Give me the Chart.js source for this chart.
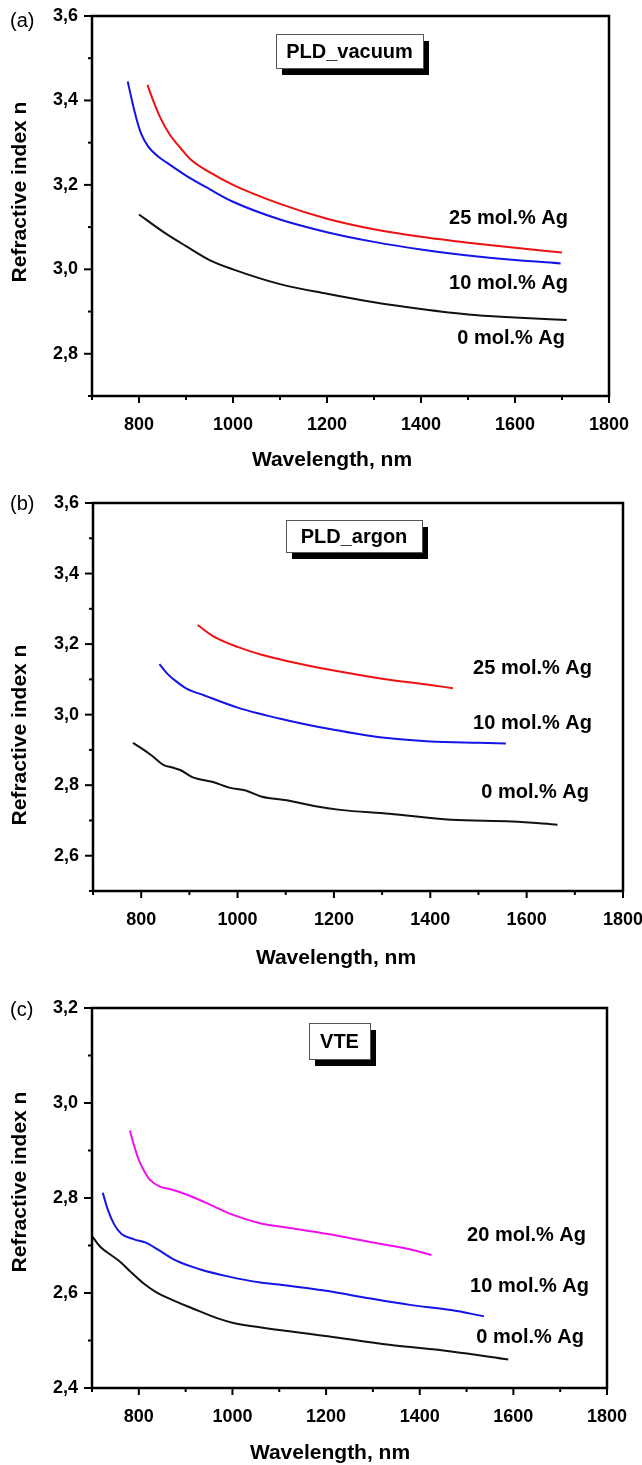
<!DOCTYPE html>
<html><head><meta charset="utf-8">
<script src="https://cdn.jsdelivr.net/npm/chart.js@4"></script>
<style>
html,body{margin:0;padding:0;background:#fff;width:642px;height:1465px;overflow:hidden}
canvas{position:absolute;left:0}
</style></head><body>
<canvas id="ca" width="642" height="490" style="top:0px"></canvas>
<canvas id="cb" width="642" height="490" style="top:490px"></canvas>
<canvas id="cc" width="642" height="485" style="top:980px"></canvas>
<script>
// ---------- DATA ----------
const xTickLabels = ['800','1000','1200','1400','1600','1800'];

// (a) PLD_vacuum
const wlA0  = [800, 850, 900, 950, 1000, 1100, 1200, 1300, 1400, 1500, 1600, 1710];
const nA0   = [3.13, 3.09, 3.055, 3.022, 3.00, 2.965, 2.942, 2.922, 2.906, 2.893, 2.886, 2.880];
const wlA10 = [776, 785, 795, 805, 820, 840, 860, 900, 950, 1000, 1100, 1200, 1300, 1400, 1500, 1600, 1697];
const nA10  = [3.445, 3.40, 3.355, 3.32, 3.29, 3.268, 3.252, 3.222, 3.19, 3.16, 3.118, 3.088, 3.065, 3.047, 3.033, 3.022, 3.014];
const wlA25 = [818, 830, 845, 865, 890, 910, 950, 1000, 1100, 1200, 1300, 1400, 1500, 1600, 1700];
const nA25  = [3.437, 3.40, 3.36, 3.32, 3.285, 3.26, 3.23, 3.20, 3.155, 3.12, 3.095, 3.077, 3.063, 3.051, 3.040];

// (b) PLD_argon
const wlB0  = [783, 800, 821, 847, 865, 881, 906, 949, 983, 1017, 1051, 1102, 1162, 1213, 1315, 1443, 1570, 1664];
const nB0   = [2.920, 2.905, 2.885, 2.857, 2.850, 2.843, 2.823, 2.809, 2.793, 2.785, 2.767, 2.757, 2.740, 2.730, 2.719, 2.702, 2.697, 2.688];
const wlB10 = [838, 855, 872, 894, 930, 1000, 1100, 1200, 1300, 1400, 1500, 1557];
const nB10  = [3.143, 3.115, 3.095, 3.074, 3.055, 3.020, 2.985, 2.957, 2.935, 2.924, 2.920, 2.918];
const wlB25 = [917, 950, 1000, 1050, 1100, 1200, 1300, 1400, 1447];
const nB25  = [3.254, 3.222, 3.192, 3.170, 3.153, 3.125, 3.102, 3.084, 3.075];

// (c) VTE
const wlC0  = [700, 717, 745, 760, 782, 809, 835, 870, 914, 967, 1002, 1072, 1204, 1335, 1467, 1589];
const nC0   = [2.720, 2.698, 2.677, 2.666, 2.645, 2.621, 2.603, 2.586, 2.568, 2.547, 2.537, 2.526, 2.509, 2.491, 2.477, 2.460];
const wlC10 = [723, 734, 747, 763, 790, 815, 840, 880, 930, 990, 1060, 1116, 1204, 1291, 1379, 1467, 1537];
const nC10  = [2.811, 2.775, 2.745, 2.724, 2.713, 2.706, 2.692, 2.668, 2.650, 2.635, 2.622, 2.616, 2.604, 2.589, 2.575, 2.564, 2.551];
const wlC20 = [781, 790, 800, 812, 824, 845, 870, 900, 920, 952, 1000, 1059, 1116, 1204, 1291, 1379, 1425];
const nC20  = [2.942, 2.91, 2.88, 2.856, 2.838, 2.824, 2.818, 2.808, 2.800, 2.786, 2.765, 2.747, 2.738, 2.724, 2.708, 2.692, 2.680];

// ---------- STYLE / LAYOUT ----------
const FONT = '"Liberation Sans", Arial, sans-serif';
const RED = '#ee1111', BLUE = '#1414e6', BLACK = '#111111', MAGENTA = '#ee11ee';

function pts(xs, ys){ return xs.map((x,i)=>({x:x, y:ys[i]})); }

function panelPlugin(p){
  return {
    id: 'panel_' + p.id,
    afterDraw(chart){
      const ctx = chart.ctx, ca = chart.chartArea;
      const xs = chart.scales.x, ys = chart.scales.y;
      ctx.save();
      // ticks
      ctx.strokeStyle = '#000'; ctx.lineWidth = 2;
      xs.ticks.forEach(t=>{
        const px = xs.getPixelForValue(t.value);
        const major = Math.round(t.value) % 200 === 0;
        ctx.beginPath(); ctx.moveTo(px, ca.bottom); ctx.lineTo(px, ca.bottom + (major?7:4)); ctx.stroke();
      });
      ys.ticks.forEach(t=>{
        const py = ys.getPixelForValue(t.value);
        const major = Math.round(t.value*10) % 2 === 0;
        ctx.beginPath(); ctx.moveTo(ca.left, py); ctx.lineTo(ca.left - (major?8:4), py); ctx.stroke();
      });
      // frame
      ctx.lineWidth = 2.5;
      ctx.strokeRect(ca.left, ca.top, ca.right - ca.left, ca.bottom - ca.top);
      // panel letter
      ctx.fillStyle = '#000';
      ctx.font = '20px ' + FONT; ctx.textAlign = 'left'; ctx.textBaseline = 'middle';
      ctx.fillText(p.letter, p.letterPos[0], p.letterPos[1]);
      // boxed label with shadow
      const b = p.box;
      ctx.fillStyle = '#000'; ctx.fillRect(b[0]+6, b[1]+7, b[2], b[3]);
      ctx.fillStyle = '#fff'; ctx.fillRect(b[0], b[1], b[2], b[3]);
      ctx.lineWidth = 1; ctx.strokeStyle = '#555'; ctx.strokeRect(b[0]+0.5, b[1]+0.5, b[2], b[3]);
      ctx.fillStyle = '#000'; ctx.font = 'bold 20px ' + FONT; ctx.textAlign = 'center';
      ctx.fillText(p.boxText, b[0] + b[2]/2, b[1] + b[3]/2 + 1);
      // curve annotations
      ctx.textAlign = 'right';
      p.notes.forEach(n=>{ ctx.fillText(n[0], n[1], n[2]); });
      // axis titles
      ctx.font = 'bold 21px ' + FONT; ctx.textAlign = 'center';
      ctx.fillText('Wavelength, nm', p.xTitle[0], p.xTitle[1]);
      ctx.translate(p.yTitle[0], p.yTitle[1]); ctx.rotate(-Math.PI/2);
      ctx.fillText('Refractive index n', 0, 0);
      ctx.restore();
    }
  };
}

function makePanel(p){
  const tickFont = {family: FONT, size: 18, weight: 'bold'};
  return new Chart(document.getElementById(p.id), {
    type: 'line',
    data: { datasets: p.series.map(s=>({data: pts(s[0], s[1]), borderColor: s[2], borderWidth: 2, pointRadius: 0, cubicInterpolationMode: 'monotone', fill: false})) },
    options: {
      responsive: false, animation: false, events: [],
      plugins: { legend: {display:false}, tooltip: {enabled:false} },
      layout: { padding: p.pad },
      scales: {
        x: {
          type: 'linear', min: 700, max: 1800,
          grid: {display:false, drawTicks:false}, border: {display:false},
          ticks: { stepSize: 100, autoSkip: false, maxRotation: 0, color: '#000', font: tickFont, padding: 18,
            callback: v => { const r = Math.round(v); return r % 200 === 0 && xTickLabels.includes(String(r)) ? String(r) : ''; } },
          afterFit(s){ s.height = p.xH; s.paddingLeft = 0; s.paddingRight = 0; }
        },
        y: {
          type: 'linear', min: p.yMin, max: p.yMax,
          grid: {display:false, drawTicks:false}, border: {display:false},
          ticks: { stepSize: 0.1, autoSkip: false, color: '#000', font: tickFont, padding: 14,
            callback: v => { const k = Math.round(v*10); return k % 2 === 0 ? (k/10).toFixed(1).replace('.', ',') : ''; } },
          afterFit(s){ s.width = p.yW; s.paddingTop = 0; s.paddingBottom = 0; }
        }
      }
    },
    plugins: [panelPlugin(p)]
  });
}

makePanel({
  id: 'ca', letter: '(a)', letterPos: [10, 21],
  yMin: 2.7, yMax: 3.6, yW: 92, xH: 60,
  pad: {left: 0, right: 33, top: 16, bottom: 34},
  series: [[wlA0, nA0, BLACK], [wlA10, nA10, BLUE], [wlA25, nA25, RED]],
  box: [276, 34, 147, 34], boxText: 'PLD_vacuum',
  notes: [['25 mol.% Ag', 568, 218], ['10 mol.% Ag', 568, 283], ['0 mol.% Ag', 565, 338]],
  xTitle: [332, 460], yTitle: [20, 192]
});
makePanel({
  id: 'cb', letter: '(b)', letterPos: [10, 14],
  yMin: 2.5, yMax: 3.6, yW: 93, xH: 60,
  pad: {left: 0, right: 19, top: 13, bottom: 29},
  series: [[wlB0, nB0, BLACK], [wlB10, nB10, BLUE], [wlB25, nB25, RED]],
  box: [286, 30, 136, 32], boxText: 'PLD_argon',
  notes: [['25 mol.% Ag', 592, 178], ['10 mol.% Ag', 592, 233], ['0 mol.% Ag', 589, 302]],
  xTitle: [336, 468], yTitle: [20, 245]
});
makePanel({
  id: 'cc', letter: '(c)', letterPos: [10, 30],
  yMin: 2.4, yMax: 3.2, yW: 92, xH: 60,
  pad: {left: 0, right: 35, top: 28, bottom: 17},
  series: [[wlC0, nC0, BLACK], [wlC10, nC10, BLUE], [wlC20, nC20, MAGENTA]],
  box: [309, 43, 61, 36], boxText: 'VTE',
  notes: [['20 mol.% Ag', 586, 255], ['10 mol.% Ag', 589, 306], ['0 mol.% Ag', 584, 357]],
  xTitle: [330, 473], yTitle: [20, 202]
});
</script>
</body></html>
